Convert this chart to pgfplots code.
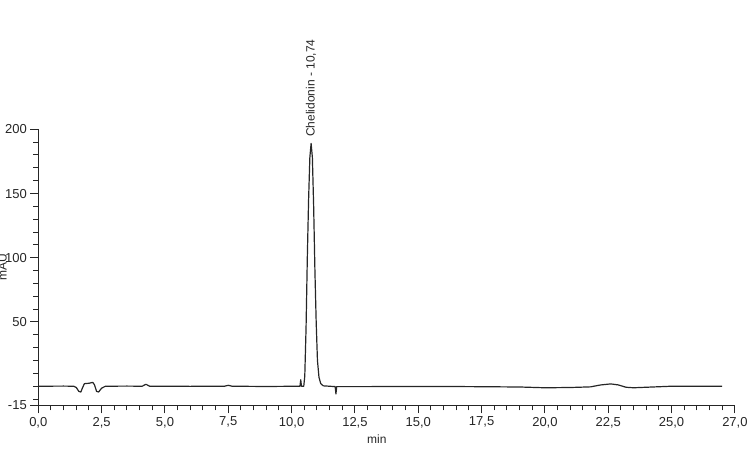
\documentclass[border=0pt]{standalone}
\usepackage{fontspec}
\setmainfont{Liberation Sans}
\usepackage{pgfplots}
\pgfplotsset{compat=1.18}
\newcommand{\chromfont}{\fontsize{12}{14}\selectfont}
\newcommand{\tickfont}{\fontsize{13}{15}\selectfont}

\begin{document}
\begin{tikzpicture}
\begin{axis}[
    at={(0,0)}, anchor=south west,
    scale only axis,
    width=696.6pt,
    height=276.2pt,
    xmin=0, xmax=27.5,
    ymin=-15, ymax=200,
    axis lines=left,
    axis line style={-, line width=1.2pt, black!85},
    clip=false,
    tick align=outside,
    xtick={0,2.5,5,7.5,10,12.5,15,17.5,20,22.5,25,27.5},
    xticklabels={{0,0},{2,5},{5,0},{7,5},{10,0},{12,5},{15,0},{17,5},{20,0},{22,5},{25,0},{27,0}},
    minor x tick num=4,
    ytick={-15,50,100,150,200},
    yticklabels={-15,50,100,150,200},
    minor ytick={-10,0,10,20,30,40,60,70,80,90,110,120,130,140,160,170,180,190},
    major tick length=8pt,
    minor tick length=5pt,
    tick style={line width=1pt, black!85},
    ticklabel style={font=\tickfont, text=black!85},
    xlabel={min},
    xlabel style={font=\chromfont, text=black!85, at={(ticklabel cs:0.486)}},
]
\addplot[black!85, line width=1.2pt, line join=round] coordinates {
    (0,0) (1.0,0.1) (1.4,0) (1.5,-1) (1.6,-4) (1.68,-4.5) (1.75,-1)
    (1.82,2) (2.0,2.3) (2.15,3) (2.22,1) (2.3,-4) (2.38,-4.5) (2.5,-1.5)
    (2.65,0) (3.5,0.1) (4.1,0) (4.25,1.5) (4.4,0) (6.0,-0.1) (7.35,0)
    (7.5,0.7) (7.65,0) (9.0,-0.2) (10.33,0) (10.36,5) (10.39,0) (10.48,0)
    (10.52,8) (10.57,45) (10.62,100) (10.67,145) (10.72,178) (10.77,189)
    (10.82,178) (10.87,140) (10.92,90) (10.97,50) (11.02,20) (11.08,7)
    (11.15,2) (11.25,0.3) (11.72,-0.3) (11.75,-6) (11.78,-0.3) (13,-0.3)
    (15,-0.2) (17,-0.3) (19,-0.6) (20,-1.2) (21,-1.0) (21.8,-0.5) (22.2,1)
    (22.6,1.8) (22.9,1) (23.2,-0.8) (23.5,-1.2) (24,-0.8) (25,0) (26,0) (27,0)
};
\node[rotate=90, anchor=west, inner sep=0pt, font=\chromfont, text=black!85]
    at (axis cs:10.77,194) {Chelidonin - 10,74};
\end{axis}
\node[rotate=90, anchor=south, inner sep=0pt, font=\chromfont, text=black!85]
    at (-31.3pt,138pt) {mAU};
\pgfresetboundingbox
\useasboundingbox (-38.3pt,-48.5pt) rectangle (711.7pt,405.5pt);
\end{tikzpicture}
\end{document}
